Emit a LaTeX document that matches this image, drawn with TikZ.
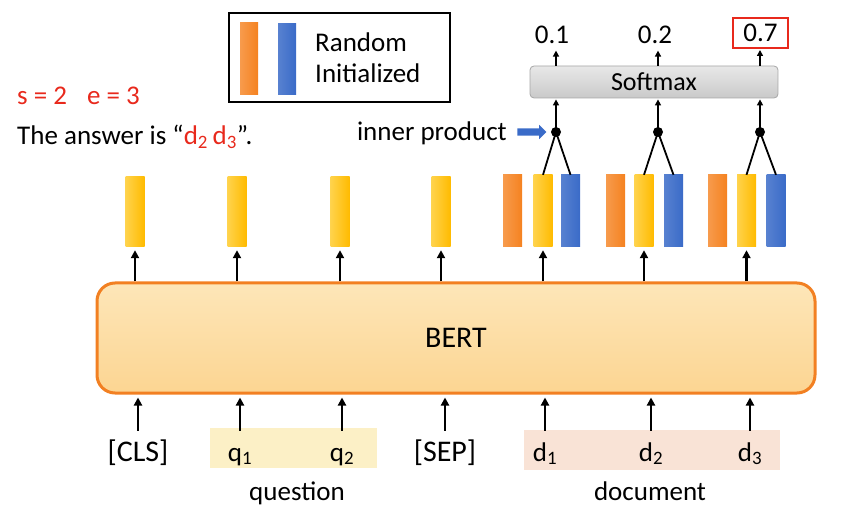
\documentclass[tikz,border=0pt]{standalone}
\usepackage{fontspec}
\setmainfont{Carlito}
\usetikzlibrary{arrows.meta,shapes.arrows}
\definecolor{myorange}{HTML}{F58220}
\definecolor{myyellow}{HTML}{FFC000}
\definecolor{myblue}{HTML}{3A6BC8}
\definecolor{myred}{HTML}{E8291C}
\definecolor{berttop}{HTML}{FDE6B8}
\definecolor{bertbot}{HTML}{FCD592}
\definecolor{bertdraw}{HTML}{F28022}
\definecolor{qhl}{HTML}{FCF0C6}
\definecolor{dhl}{HTML}{F9E3D6}
\newcommand\myfs{\fontsize{27}{32}\selectfont}
\begin{document}
\begin{tikzpicture}[x=1pt,y=-1pt,
  every node/.style={font=\myfs,inner sep=0pt},
  bar/.style={minimum width=19pt,minimum height=72pt,draw=none},
  ybar/.style={bar,left color=myyellow!70!white,right color=myyellow!92!orange},
  obar/.style={bar,left color=myorange!80!white,right color=myorange},
  bbar/.style={bar,left color=myblue!85!white,right color=myblue},
  tok/.style={anchor=base,text height=30pt,text depth=0pt},
  arr/.style={line width=2.2pt,-{Triangle[length=8pt,width=8pt]}},
  sarr/.style={line width=1.6pt,-{Triangle[length=6pt,width=6pt]}},
  vline/.style={line width=1.8pt}]
\useasboundingbox (0,0) rectangle (844,513);

% legend
\node[draw=black,line width=2pt,minimum width=221pt,minimum height=89pt] (legend) at (339.5,57.5) {};
\node[obar,minimum width=18pt,minimum height=72pt] (lo) at (249,59) {};
\node[bbar,minimum width=18pt,minimum height=71pt] (lb) at (287,59.5) {};
\node[anchor=base west] (lr) at (315,52) {Random};
\node[anchor=base west] (li) at (315,83) {Initialized};

% left texts
\node[anchor=base west,text=myred] (se) at (17,105) {s = 2\hspace{20pt}e = 3};
\node[anchor=base west] (ans) at (17,145) {The answer is “\textcolor{myred}{d\textsubscript{2}\,d\textsubscript{3}}”.};

% softmax and outputs
\node[draw=gray!70,line width=0.8pt,rounded corners=4pt,top color=gray!18,bottom color=gray!42,
      minimum width=248pt,minimum height=32pt,font=\fontsize{26}{30}\selectfont] (soft) at (654,82) {Softmax};
\node[anchor=base] (p1) at (552,44) {0.1};
\node[anchor=base] (p2) at (655,44) {0.2};
\node[draw=myred,line width=2pt,minimum width=55pt,minimum height=30pt] (p3) at (760.5,33) {0.7};

% inner product
\node[anchor=base east] (ip) at (507,141) {inner product};
\node[single arrow,fill=myblue,inner sep=3.5pt,minimum height=29pt,single arrow head extend=3.5pt] (ipa) at (530,132) {};
\node[circle,fill=black,minimum size=10pt] (d1) at (556,132) {};
\node[circle,fill=black,minimum size=10pt] (d2) at (658,132) {};
\node[circle,fill=black,minimum size=10pt] (d3) at (760,132) {};

% bars
\node[ybar,minimum height=70pt] (y1) at (135,212) {};
\node[ybar,minimum height=70pt] (y2) at (237,212) {};
\node[ybar,minimum height=70pt] (y3) at (340,212) {};
\node[ybar,minimum height=70pt] (y4) at (441,212) {};
\node[obar] (o1) at (512.5,211) {};
\node[ybar] (y5) at (543,211) {};
\node[bbar] (b1) at (570.5,211) {};
\node[obar] (o2) at (615.5,211) {};
\node[ybar] (y6) at (644,211) {};
\node[bbar] (b2) at (673.5,211) {};
\node[obar] (o3) at (717.5,211) {};
\node[ybar] (y7) at (746.5,211) {};
\node[bbar] (b3) at (776,211) {};

% BERT
\node[draw=bertdraw,line width=3pt,rounded corners=18pt,top color=berttop,bottom color=bertbot,
      minimum width=718pt,minimum height=110pt,font=\fontsize{30}{36}\selectfont] (bert) at (456,338) {BERT};

% highlights
\node[fill=qhl,minimum width=167pt,minimum height=40pt] (qbg) at (293.5,448) {};
\node[fill=dhl,minimum width=256pt,minimum height=40pt] (dbg) at (652,450) {};

% tokens
\node[tok,font=\fontsize{30}{34}\selectfont] (t1) at (138,461) {[CLS]};
\node[tok] (t2) at (240,461) {q\textsubscript{1}};
\node[tok] (t3) at (342,461) {q\textsubscript{2}};
\node[tok,font=\fontsize{30}{34}\selectfont] (t4) at (445,461) {[SEP]};
\node[tok] (t5) at (545,461) {d\textsubscript{1}};
\node[tok] (t6) at (651,461) {d\textsubscript{2}};
\node[tok] (t7) at (750,461) {d\textsubscript{3}};
\node[anchor=base] (qlab) at (297,500) {question};
\node[anchor=base] (dlab) at (650,500) {document};

% arrows tokens -> BERT
\foreach \t in {t1,t2,t3,t4,t5,t6,t7}
  \draw[arr,shorten >=3pt] (\t.north) -- (\t.north |- bert.south);
% arrows BERT -> bars
\foreach \b in {y1,y2,y3,y4,y5,y6,y7}
  \draw[arr,shorten >=3pt] (bert.north -| \b) -- (\b.south);

% inner product V lines
\foreach \d/\y/\b in {d1/y5/b1,d2/y6/b2,d3/y7/b3}{
  \draw[vline] (\d.center) -- (\y.north);
  \draw[vline] (\d.center) -- (\b.north);
  \draw[sarr,shorten >=1pt] (\d.center) -- (\d |- soft.south);
}
% softmax -> outputs
\draw[sarr] (soft.north -| d1) -- ++(0,-15);
\draw[sarr] (soft.north -| d2) -- ++(0,-15);
\draw[sarr,shorten >=1pt] (soft.north -| d3) -- (d3 |- p3.south);
\end{tikzpicture}
\end{document}
